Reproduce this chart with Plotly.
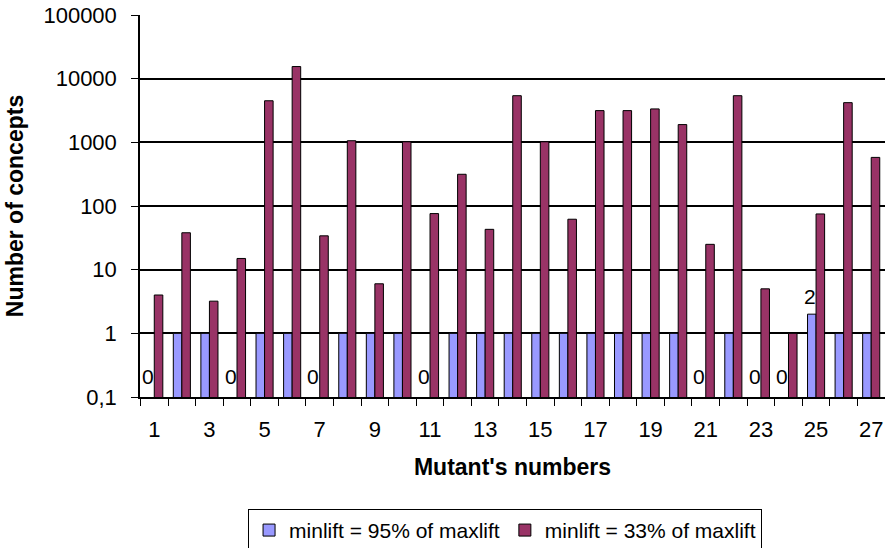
import math
import plotly.graph_objects as go

mutants = [str(i) for i in range(1, 28)]
minlift_95 = [0, 1, 1, 0, 1, 1, 0, 1, 1, 1, 0, 1, 1, 1, 1, 1, 1, 1, 1, 1, 0, 1, 0, 0, 2, 1, 1]
minlift_33 = [4, 38, 3.2, 15, 4500, 15500, 34, 1060, 6, 1020, 76, 315, 43, 5400, 1020, 62,
              3150, 3150, 3350, 1900, 25, 5400, 5, 1, 75, 4200, 580]
y_tickvals = [0.1, 1, 10, 100, 1000, 10000, 100000]
y_ticktext = ["0,1", "1", "10", "100", "1000", "10000", "100000"]
x_ticktext = [m if int(m) % 2 == 1 else "" for m in mutants]

FONT = "Liberation Sans"
fig = go.Figure()
fig.add_trace(go.Bar(
    x=mutants, y=[v if v > 0 else None for v in minlift_95],
    name="minlift = 95% of maxlift",
    marker=dict(color="#9999FF", line=dict(color="black", width=1)),
))
fig.add_trace(go.Bar(
    x=mutants, y=minlift_33,
    name="minlift = 33% of maxlift",
    marker=dict(color="#993366", line=dict(color="black", width=1)),
))

bargap = 0.38
plot_w = 885 - 140
annotations = []
for i, v in enumerate(minlift_95):
    if v != 1:
        yy = -1 if v <= 0 else math.log10(v)
        annotations.append(dict(
            x=i, y=yy, xref="x", yref="y", text=str(v), showarrow=False,
            xshift=-(1 - bargap) / 4 * plot_w / len(mutants) - 2, yanchor="bottom",
            yshift=7 if v <= 0 else 4,
            font=dict(family=FONT, size=21, color="black"),
        ))

fig.update_layout(
    width=885, height=548,
    margin=dict(l=140, r=0, t=15, b=151, autoexpand=False),
    paper_bgcolor="white", plot_bgcolor="white",
    barmode="group", bargap=bargap, bargroupgap=0,
    font=dict(family=FONT, size=21, color="black"),
    showlegend=True,
    legend=dict(
        orientation="h", x=0.49, xanchor="center", y=-0.293, yanchor="top",
        bordercolor="black", borderwidth=1, bgcolor="white",
        font=dict(family=FONT, size=21, color="black"),
        itemwidth=30, tracegroupgap=0,
    ),
    annotations=annotations,
)
fig.update_xaxes(
    type="category", tickvals=mutants, ticktext=x_ticktext, tickangle=0,
    tickson="boundaries", ticks="outside", ticklen=7, tickcolor="black", tickwidth=1,
    showline=True, linecolor="black", linewidth=1.5, showgrid=False, automargin=False,
    ticklabelstandoff=12,
    tickfont=dict(family=FONT, size=22, color="black"),
    title=dict(text="<b>Mutant's numbers</b>", font=dict(family=FONT, size=23, color="black"), standoff=18),
)
fig.update_yaxes(
    type="log", range=[-1, 5], tickvals=y_tickvals, ticktext=y_ticktext,
    ticks="outside", ticklen=7, tickcolor="black", tickwidth=1,
    showline=True, linecolor="black", linewidth=1.5, automargin=False,
    ticklabelstandoff=10,
    showgrid=True, gridcolor="black", gridwidth=1.5, zeroline=False,
    tickfont=dict(family=FONT, size=22, color="black"),
    title=dict(text="<b>Number of concepts</b>", font=dict(family=FONT, size=23, color="black"), standoff=13),
)
fig.write_html("out.html", config={"displayModeBar": False},
               post_script="document.body.style.margin='0';document.body.style.overflow='hidden';")
